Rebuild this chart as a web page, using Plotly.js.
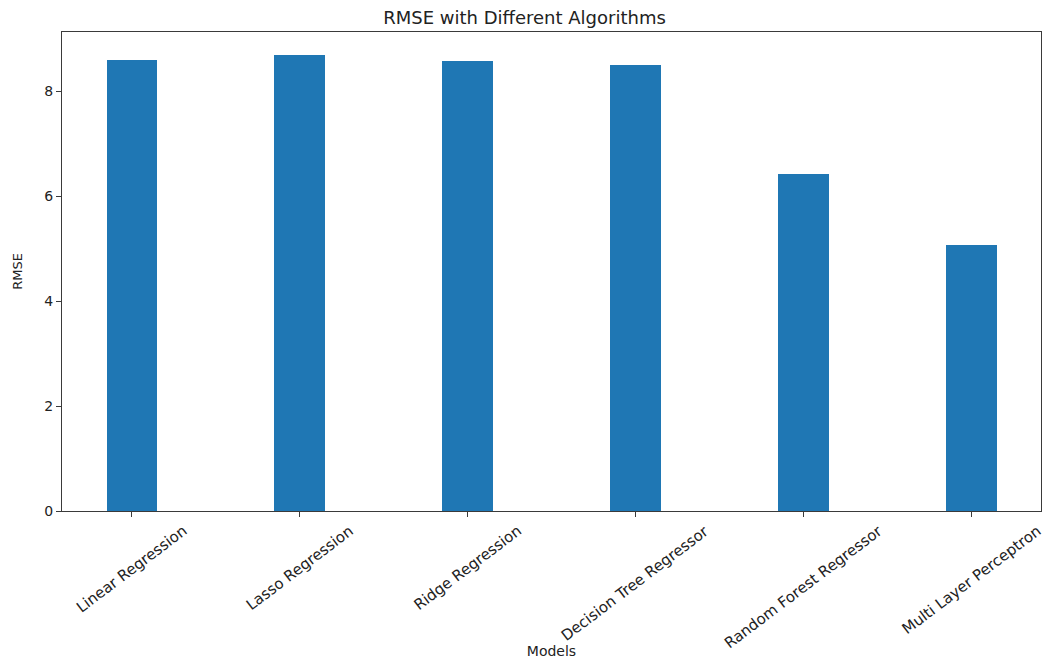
<!DOCTYPE html>
<html>
<head>
<meta charset="utf-8">
<script src="https://cdn.plot.ly/plotly-3.0.1.min.js"></script>
<style>
  html, body { margin: 0; padding: 0; background: #ffffff; }
  #chart { width: 1049px; height: 662px; }
</style>
</head>
<body>
<div id="chart"></div>
<script>
// Data
const models = [
  "Linear Regression",
  "Lasso Regression",
  "Ridge Regression",
  "Decision Tree Regressor",
  "Random Forest Regressor",
  "Multi Layer Perceptron"
];
const rmseValues = [8.61, 8.70, 8.58, 8.50, 6.43, 5.08];
const yTickValues = [0, 2, 4, 6, 8];

const xPositions = models.map((_, i) => i);
const maxVal = Math.max(...rmseValues);

const FONT = "DejaVu Sans, sans-serif";

const trace = {
  type: "bar",
  x: xPositions,
  y: rmseValues,
  width: 0.3,
  marker: { color: "#1f77b4", line: { width: 0 } },
  hoverinfo: "x+y"
};

// Category labels centred under each bar (matplotlib style rotation)
const labelAnnotations = models.map((name, i) => ({
  text: name,
  x: xPositions[i],
  xref: "x",
  y: 0,
  yref: "paper",
  xanchor: "center",
  yanchor: "top",
  yshift: -8,
  textangle: -37,
  showarrow: false,
  font: { family: FONT, size: 15, color: "#222222" }
}));

const layout = {
  width: 1049,
  height: 662,
  paper_bgcolor: "#ffffff",
  plot_bgcolor: "#ffffff",
  margin: { l: 62, r: 8, t: 32, b: 151 },
  showlegend: false,
  bargap: 0,
  title: {
    text: "RMSE with Different Algorithms",
    font: { family: FONT, size: 18, color: "#222222" },
    x: 0.5,
    xanchor: "center",
    y: 1 - 18 / 662,
    yanchor: "middle"
  },
  xaxis: {
    range: [-0.415, models.length - 1 + 0.415],
    tickmode: "array",
    tickvals: xPositions,
    ticktext: models,
    showticklabels: false,
    ticks: "outside",
    ticklen: 5,
    tickwidth: 1,
    tickcolor: "#3a3a3a",
    showgrid: false,
    zeroline: false,
    showline: true,
    linecolor: "#3a3a3a",
    linewidth: 1.2,
    mirror: true,
    automargin: false,
    title: {
      text: "Models",
      font: { family: FONT, size: 14, color: "#222222" },
      standoff: 130
    }
  },
  yaxis: {
    range: [0, maxVal * 1.05],
    tickmode: "array",
    tickvals: yTickValues,
    ticktext: yTickValues.map(String),
    ticks: "outside",
    ticklen: 5,
    tickwidth: 1,
    tickcolor: "#3a3a3a",
    tickfont: { family: FONT, size: 14, color: "#222222" },
    showgrid: false,
    zeroline: false,
    showline: true,
    linecolor: "#3a3a3a",
    linewidth: 1.2,
    mirror: true,
    automargin: false,
    title: {
      text: "RMSE",
      font: { family: FONT, size: 13, color: "#222222" },
      standoff: 18
    }
  },
  annotations: labelAnnotations
};

Plotly.newPlot("chart", [trace], layout, { displayModeBar: false, staticPlot: false });
</script>
</body>
</html>
